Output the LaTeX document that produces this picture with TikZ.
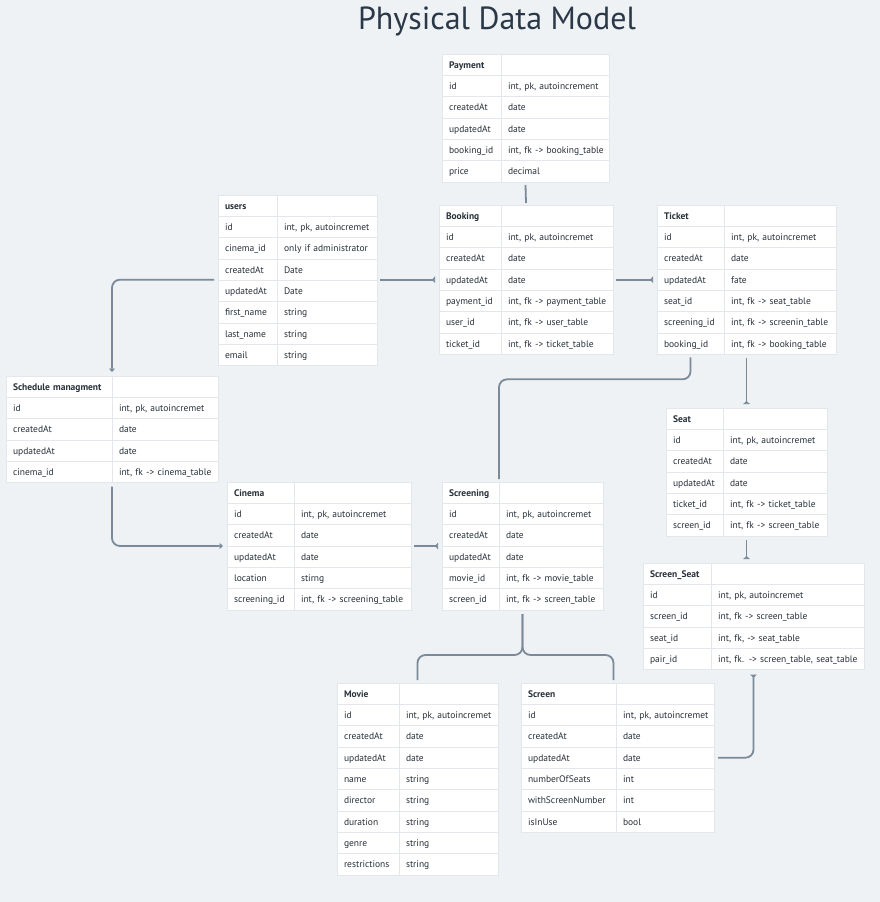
\documentclass[tikz,border=0pt]{standalone}
\usepackage{fontspec}
\setmainfont{PT Sans}
\usetikzlibrary{arrows.meta,positioning}
\definecolor{bgcol}{HTML}{EFF2F5}
\definecolor{gridcol}{HTML}{E3E7EB}
\definecolor{txtcol}{HTML}{283039}
\definecolor{titlecol}{HTML}{2A3848}
\definecolor{linkcol}{HTML}{7A8A99}
\def\rowh{21.333}
\tikzset{
  cell/.style={draw=gridcol, line width=1pt, fill=white, anchor=north west,
    minimum height=\rowh pt, inner xsep=7pt, inner ysep=0pt, outer sep=0pt,
    text height=8pt, text depth=1pt, align=left, text=txtcol,
    font=\fontsize{9.5}{11}\selectfont},
  tbl/.style={draw=none, anchor=north west, inner sep=0pt, outer sep=0pt},
  link/.style={draw=linkcol, line width=1.8pt, rounded corners=8pt},
  tipin/.style={-{Triangle[length=3.5pt,width=6pt]}},
  tipback/.style={-{Triangle[reversed,length=3pt,width=6.5pt]}}
}
% #1 name, #2 x, #3 y, #4 key width, #5 type width, #6 rows, #7 title, #8 rows list
\newcommand{\dbtable}[8]{
  \pgfmathsetmacro{\wa}{#4-14}
  \pgfmathsetmacro{\wb}{#5-14}
  \pgfmathsetmacro{\tw}{#4+#5}
  \pgfmathsetmacro{\th}{(#6+1)*\rowh}
  \node[tbl, minimum width=\tw pt, minimum height=\th pt] (#1) at (#2,#3) {};
  \node[cell, text width=\wa pt] (#1-0) at ({#2},{#3}) {\mbox{\textbf{#7}}};
  \node[cell, text width=\wb pt] (#1-0v) at ({#2+#4},{#3}) {};
  \foreach \k/\v [count=\i] in {#8}{
    \node[cell, text width=\wa pt] (#1-\i) at ({#2},{#3+\i*\rowh}) {\mbox{\k}};
    \node[cell, text width=\wb pt] (#1-\i v) at ({#2+#4},{#3+\i*\rowh}) {\mbox{\v}};
  }
}

\begin{document}
\begin{tikzpicture}[x=1pt,y=-1pt]
  \useasboundingbox[fill=bgcol] (0,0) rectangle (880,902);

  \node[text=titlecol, font=\fontsize{32}{36}\selectfont] (title) at (497,21) {Physical Data Model};

  \dbtable{pay}{442}{54}{59}{108}{5}{Payment}{
    id/{int, pk, autoincrement}, createdAt/date, updatedAt/date,
    booking\_id/{int, fk -> booking\_table}, price/decimal}
  \dbtable{users}{218}{195}{59}{100}{7}{users}{
    id/{int, pk, autoincremet}, cinema\_id/{only if administrator},
    createdAt/Date, updatedAt/Date, first\_name/string, last\_name/string, email/string}
  \dbtable{book}{439}{205}{62}{112}{6}{Booking}{
    id/{int, pk, autoincremet}, createdAt/date, updatedAt/date,
    payment\_id/{int, fk -> payment\_table}, user\_id/{int, fk -> user\_table},
    ticket\_id/{int, fk -> ticket\_table}}
  \dbtable{tick}{657}{205}{67}{112}{6}{Ticket}{
    id/{int, pk, autoincremet}, createdAt/date, updatedAt/fate,
    seat\_id/{int, fk -> seat\_table}, screening\_id/{int, fk -> screenin\_table},
    booking\_id/{int, fk -> booking\_table}}
  \dbtable{sched}{6}{376}{106}{106}{4}{Schedule managment}{
    id/{int, pk, autoincremet}, createdAt/date, updatedAt/date,
    cinema\_id/{int, fk -> cinema\_table}}
  \dbtable{cin}{227}{482}{67}{117}{5}{Cinema}{
    id/{int, pk, autoincremet}, createdAt/date, updatedAt/date, location/stirng,
    screening\_id/{int, fk -> screening\_table}}
  \dbtable{scr}{442}{482}{57}{104}{5}{Screening}{
    id/{int, pk, autoincremet}, createdAt/date, updatedAt/date,
    movie\_id/{int, fk -> movie\_table}, screen\_id/{int, fk -> screen\_table}}
  \dbtable{seat}{666}{408}{57}{104}{5}{Seat}{
    id/{int, pk, autoincremet}, createdAt/date, updatedAt/date,
    ticket\_id/{int, fk -> ticket\_table}, screen\_id/{int, fk -> screen\_table}}
  \dbtable{sseat}{643}{563}{68}{153}{4}{Screen\_Seat}{
    id/{int, pk, autoincremet}, screen\_id/{int, fk -> screen\_table},
    seat\_id/{int, fk, -> seat\_table}, pair\_id/{int, fk. -> screen\_table, seat\_table}}
  \dbtable{movie}{337}{683}{62}{99}{8}{Movie}{
    id/{int, pk, autoincremet}, createdAt/date, updatedAt/date, name/string,
    director/string, duration/string, genre/string, restrictions/string}
  \dbtable{screen}{521}{683}{95}{98}{6}{Screen}{
    id/{int, pk, autoincremet}, createdAt/date, updatedAt/date,
    numberOfSeats/int, withScreenNumber/int, isInUse/bool}

  \coordinate (bend) at ([yshift=-25pt]tick-6.south);
  \coordinate (fork) at ([yshift=28pt]scr.south |- movie.north);

  \draw[link] ([yshift=-3pt]pay.south) -- ([yshift=2pt]book.north);
  \draw[link,tipback] ([xshift=3pt]users.east |- book-3.west) -- ([xshift=-4pt]book-3.west);
  \draw[link,tipback] ([xshift=3pt]book.east |- tick-3.west) -- ([xshift=-4pt]tick-3.west);
  \draw[link,tipin] ([xshift=-4pt]users.west |- book-3.west) -| ([yshift=4pt]sched.north);
  \draw[link,tipin] ([yshift=-4pt]sched.south) |- ([xshift=-4pt]cin-2.south west);
  \draw[link,tipback] ([xshift=3pt]cin.east |- cin-2.south) -- ([xshift=-4pt]scr-2.south west);
  \draw[link] ([yshift=-3pt]tick-6.south) -- (bend) -| ([yshift=3pt]scr-0v.north west);
  \draw[link,tipback] ([yshift=-4pt]tick.south) -- ([yshift=4pt]seat.north);
  \draw[link,tipback] ([yshift=-4pt]seat.south) -- ([yshift=4pt]seat.south |- sseat.north);
  \draw[link,tipback] ([xshift=4pt]screen-3v.east) -| ([yshift=-5pt]sseat.south);
  \draw[link] ([yshift=-4pt]scr.south) -- (fork) -| ([yshift=3pt]movie.north);
  \draw[link] ([yshift=-4pt]scr.south) -- (fork) -| ([xshift=-4pt,yshift=3pt]screen.north);
\end{tikzpicture}
\end{document}
